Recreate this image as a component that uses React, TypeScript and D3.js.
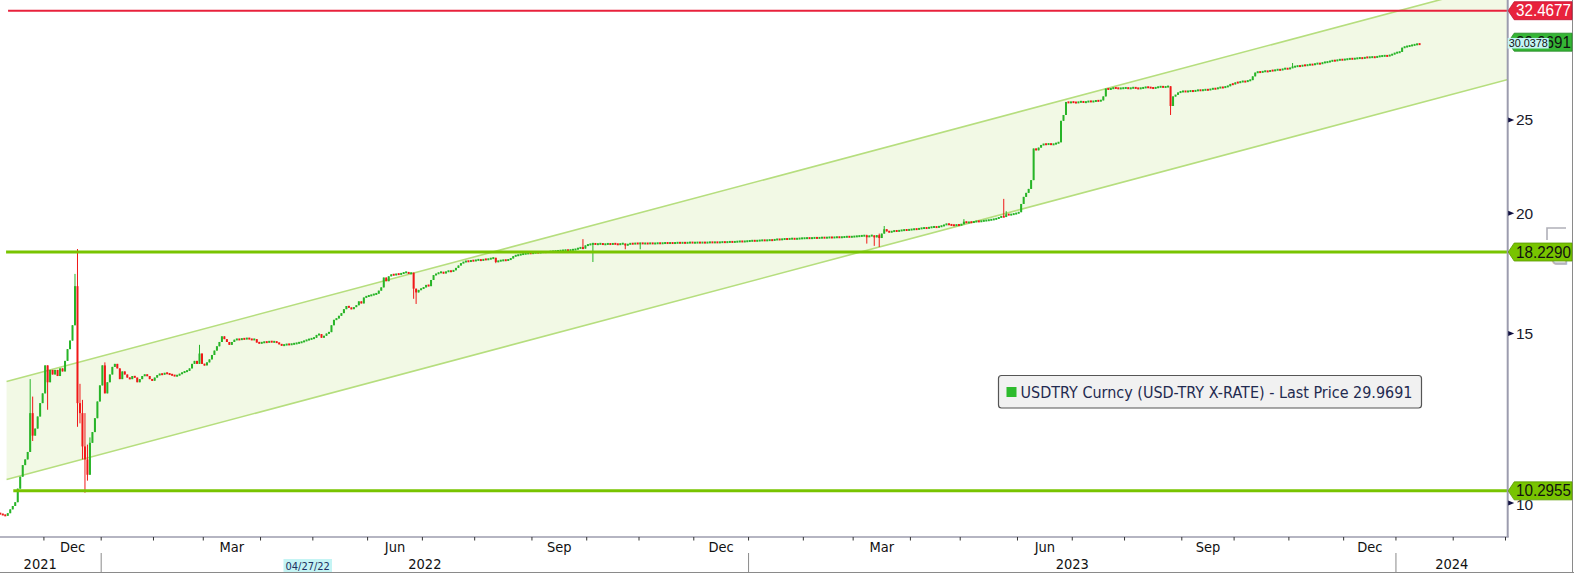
import React from "react";
import * as d3 from "d3";

// ---------------- DATA ----------------
// Daily closes (weekdays) of USDTRY, starting 2021-11-05
const startDate = "2021-11-05";
const firstOpen = 9.76;
const nov21 = [9.74, 9.72, 9.70, 9.76, 9.85, 9.93, 10.02, 10.35, 10.65, 10.95, 11.10, 11.30, 12.40, 11.75, 11.95, 12.30, 12.70, 13.00];
const dec21 = [13.90, 13.35, 13.75, 13.60, 13.75, 13.55, 13.80, 13.70, 14.05, 14.45, 14.75, 15.30, 16.80, 12.70, 12.40, 11.45, 11.10, 10.70, 11.55, 11.85, 12.25, 12.75, 13.25];
const jan22 = [13.90, 13.00, 13.35, 13.60, 13.85, 13.95, 13.80, 13.45, 13.70, 13.60, 13.50, 13.45, 13.55, 13.50, 13.35, 13.45, 13.55, 13.60, 13.55, 13.45, 13.40];
const feb22 = [13.50, 13.58, 13.62, 13.60, 13.65, 13.63, 13.60, 13.58, 13.55, 13.57, 13.62, 13.66, 13.70, 13.72, 13.80, 13.95, 14.05, 13.95, 14.30, 13.95];
const mar22 = [13.90, 14.00, 14.10, 14.25, 14.40, 14.55, 14.70, 14.90, 14.80, 14.70, 14.60, 14.70, 14.78, 14.80, 14.78, 14.82, 14.80, 14.84, 14.80, 14.78, 14.80, 14.68, 14.66];
const apr22 = [14.68, 14.70, 14.69, 14.72, 14.70, 14.71, 14.68, 14.62, 14.58, 14.60, 14.62, 14.61, 14.63, 14.64, 14.66, 14.68, 14.70, 14.74, 14.77, 14.80, 14.82];
const may22 = [14.85, 14.95, 14.98, 14.85, 14.92, 15.00, 15.05, 15.30, 15.50, 15.55, 15.65, 15.75, 15.90, 16.02, 15.96, 15.90, 15.98, 16.05, 16.20, 16.12, 16.35, 16.40];
const jun22 = [16.42, 16.45, 16.48, 16.50, 16.62, 16.75, 17.15, 17.00, 17.20, 17.28, 17.25, 17.30, 17.28, 17.32, 17.35, 17.38, 17.30, 17.35, 16.70, 16.55, 16.65, 16.70];
const jul22 = [16.75, 16.85, 16.80, 17.05, 17.25, 17.30, 17.35, 17.38, 17.32, 17.40, 17.42, 17.40, 17.45, 17.55, 17.65, 17.75, 17.80, 17.84, 17.82, 17.86, 17.85];
const aug22 = [17.88, 17.90, 17.86, 17.92, 17.90, 17.93, 17.95, 17.98, 17.80, 17.85, 17.86, 17.88, 17.87, 17.90, 17.95, 18.05, 18.08, 18.10, 18.13, 18.15, 18.16, 18.18, 18.17];
const sep22 = [18.19, 18.21, 18.20, 18.22, 18.23, 18.22, 18.24, 18.25, 18.26, 18.27, 18.28, 18.29, 18.30, 18.31, 18.30, 18.32, 18.33, 18.35, 18.40, 18.42, 18.38, 18.52];
const oct22 = [18.55, 18.58, 18.60, 18.57, 18.58, 18.60, 18.56, 18.58, 18.59, 18.57, 18.60, 18.58, 18.56, 18.59, 18.60, 18.52, 18.58, 18.60, 18.59, 18.61, 18.60];
const nov22 = [18.62, 18.60, 18.61, 18.60, 18.62, 18.60, 18.61, 18.62, 18.61, 18.62, 18.63, 18.62, 18.63, 18.62, 18.63, 18.64, 18.63, 18.64, 18.63, 18.64, 18.65, 18.64];
const dec22 = [18.64, 18.65, 18.64, 18.65, 18.64, 18.65, 18.66, 18.65, 18.66, 18.65, 18.66, 18.67, 18.66, 18.67, 18.68, 18.67, 18.68, 18.69, 18.70, 18.69, 18.70, 18.71];
const jan23 = [18.72, 18.73, 18.72, 18.73, 18.74, 18.75, 18.74, 18.75, 18.76, 18.75, 18.78, 18.79, 18.78, 18.80, 18.81, 18.80, 18.82, 18.82, 18.81, 18.82, 18.83, 18.84];
const feb23 = [18.84, 18.85, 18.84, 18.85, 18.86, 18.85, 18.86, 18.87, 18.86, 18.87, 18.88, 18.87, 18.88, 18.89, 18.88, 18.89, 18.90, 18.91, 18.90, 18.91];
const mar23 = [18.92, 18.93, 18.94, 18.95, 18.96, 18.90, 18.95, 18.97, 18.88, 18.98, 18.85, 19.05, 19.25, 19.15, 19.12, 19.15, 19.18, 19.16, 19.19, 19.20, 19.22, 19.21, 19.23];
const apr23 = [19.24, 19.26, 19.25, 19.28, 19.30, 19.31, 19.30, 19.33, 19.35, 19.36, 19.34, 19.38, 19.40, 19.45, 19.50, 19.46, 19.44, 19.43, 19.45, 19.44];
const may23 = [19.48, 19.60, 19.55, 19.58, 19.57, 19.60, 19.62, 19.61, 19.63, 19.65, 19.66, 19.68, 19.70, 19.72, 19.75, 19.80, 19.85, 19.82, 19.95, 19.92, 19.95, 19.97, 20.00];
const jun23 = [20.05, 20.45, 20.80, 21.00, 21.20, 21.65, 23.35, 23.25, 23.40, 23.55, 23.60, 23.58, 23.62, 23.57, 23.60, 23.65, 23.70, 24.95, 25.30, 26.10, 26.05, 26.10];
const jul23 = [26.08, 26.05, 26.10, 26.12, 26.08, 26.10, 26.15, 26.12, 26.14, 26.18, 26.16, 26.20, 26.45, 26.95, 26.90, 26.95, 27.00, 26.98, 26.95, 26.97, 26.98];
const aug23 = [27.00, 26.95, 26.98, 27.02, 26.97, 26.95, 26.98, 27.00, 27.05, 27.02, 27.00, 26.97, 27.02, 27.05, 27.08, 27.04, 27.06, 27.10, 25.85, 26.45, 26.55, 26.70, 26.75];
const sep23 = [26.78, 26.75, 26.78, 26.80, 26.78, 26.82, 26.85, 26.83, 26.86, 26.88, 26.86, 26.92, 26.95, 26.93, 27.00, 27.03, 27.01, 27.08, 27.10, 27.25, 27.22];
const oct23 = [27.35, 27.33, 27.40, 27.42, 27.39, 27.48, 27.50, 27.75, 28.00, 28.05, 28.02, 28.08, 28.10, 28.06, 28.15, 28.12, 28.18, 28.20, 28.17, 28.25, 28.28, 28.24];
const nov23 = [28.32, 28.38, 28.42, 28.45, 28.43, 28.50, 28.48, 28.52, 28.55, 28.53, 28.60, 28.62, 28.59, 28.68, 28.70, 28.72, 28.78, 28.82, 28.80, 28.86, 28.88, 28.87];
const dec23 = [28.90, 28.92, 28.95, 28.93, 28.96, 28.98, 29.00, 28.97, 29.04, 29.03, 29.05, 29.06, 29.04, 29.10, 29.12, 29.14, 29.15, 29.13, 29.20, 29.25, 29.35];
const jan24 = [29.38, 29.42, 29.72, 29.78, 29.82, 29.86, 29.90, 29.94, 29.98, 29.9691];

// intraday extremes beyond the body
const highs: [string, number][] = [
  ["2021-11-23", 13.45], ["2021-11-24", 12.9], ["2021-12-17", 17.3], ["2021-12-20", 18.36],
  ["2021-12-21", 13.3], ["2021-12-22", 12.8], ["2021-12-23", 12.4], ["2021-12-24", 11.5],
  ["2021-12-27", 11.7], ["2022-01-04", 14.0], ["2022-02-25", 14.6], ["2022-09-29", 18.8],
  ["2023-03-08", 19.0], ["2023-03-15", 19.05], ["2023-03-17", 19.4], ["2023-05-02", 19.72],
  ["2023-05-24", 20.7], ["2023-05-25", 20.1], ["2023-11-02", 28.65],
];
const lows: [string, number][] = [
  ["2021-11-24", 11.6], ["2021-12-02", 12.5], ["2021-12-20", 12.0], ["2021-12-21", 12.1],
  ["2021-12-22", 11.1], ["2021-12-23", 10.25], ["2021-12-24", 10.55], ["2022-06-27", 16.3],
  ["2022-06-28", 16.1], ["2022-08-11", 17.75], ["2022-10-05", 17.8], ["2022-10-24", 18.35],
  ["2022-11-01", 18.35], ["2023-03-08", 18.6], ["2023-03-13", 18.5], ["2023-03-15", 18.45],
  ["2023-08-25", 25.3],
];

// trend channel (start/end trading-day index, upper & lower values)
const channelIdx = [3, 606];
const channelUpper = [13.377, 34.8];
const channelLower = [10.58, 27.54];

// horizontal levels
const levelValues = [32.4677, 18.229, 10.2955];
const levelStartIdx = [3.6, 2.8, 5.7];
const levelLabels = ["32.4677", "18.2290", "10.2955"];

const yTicks = [10, 15, 20, 25];
const lastPrice = 29.9691;
const lastPriceLabel = "29.9691";
const crossValue = 30.0378;
const crossLabel = "30.0378";
const monthNames = ["Jan", "Feb", "Mar", "Apr", "May", "Jun", "Jul", "Aug", "Sep", "Oct", "Nov", "Dec"];
const labeledMonths = [11, 2, 5, 8];
const legendText = "USDTRY Curncy (USD-TRY X-RATE) - Last Price 29.9691";
const cursorDate = "04/27/22";

// ---------------- HELPERS ----------------
function buildWeekdays(start: string, count: number): Date[] {
  const [y, m, d] = start.split("-").map(Number);
  const out: Date[] = [];
  let t = Date.UTC(y, m - 1, d);
  while (out.length < count) {
    const dt = new Date(t);
    const wd = dt.getUTCDay();
    if (wd !== 0 && wd !== 6) out.push(dt);
    t += 86400000;
  }
  return out;
}
const iso = (d: Date) => d.toISOString().slice(0, 10);

const GREEN = "#27b427";
const RED = "#f01818";
const AXIS = "#9c9cae";
const FONT = "'Liberation Sans', Arial, sans-serif";
const NARROW = "'Liberation Sans Narrow', 'DejaVu Sans Condensed', 'Liberation Sans', sans-serif";

export default function App() {
  const W = 1574, H = 573;
  const plotR = 1507.7, plotB = 537;

  const closes = [nov21, dec21, jan22, feb22, mar22, apr22, may22, jun22, jul22, aug22, sep22, oct22, nov22, dec22,
    jan23, feb23, mar23, apr23, may23, jun23, jul23, aug23, sep23, oct23, nov23, dec23, jan24].flat();

  const calendar = buildWeekdays(startDate, 610);
  const xs = d3.scaleLinear().domain([0, 605]).range([-0.9, 1505.5]);
  const ys = d3.scaleLog().domain([9.22, 33.31]).range([plotB, 0]);

  const highMap = new Map(highs);
  const lowMap = new Map(lows);

  const candles = closes.map((c, i) => {
    const o = i === 0 ? firstOpen : closes[i - 1];
    const key = iso(calendar[i]);
    const h = Math.max(o, c, highMap.get(key) ?? 0);
    const l = Math.min(o, c, lowMap.get(key) ?? Infinity);
    return { i, o, c, h, l, up: c >= o };
  });

  const monthStarts: { idx: number; m: number; y: number }[] = [];
  calendar.forEach((d, i) => {
    const prev = calendar[i - 1];
    if (i > 0 && prev.getUTCMonth() !== d.getUTCMonth()) monthStarts.push({ idx: i, m: d.getUTCMonth(), y: d.getUTCFullYear() });
  });
  const yearStarts = monthStarts.filter((s) => s.m === 0);

  const chPts = [
    [xs(channelIdx[0]), ys(channelUpper[0])],
    [xs(channelIdx[1]), ys(channelUpper[1])],
    [xs(channelIdx[1]), ys(channelLower[1])],
    [xs(channelIdx[0]), ys(channelLower[0])],
  ];
  const line = d3.line();

  const levelColors = ["#e8223c", "#78c400", "#78c400"];
  const levelWidths = [2, 3, 3];
  const tagFill = ["#e8223c", "#78c400", "#78c400"];
  const tagText = ["#ffffff", "#111111", "#111111"];

  const tagPath = (yc: number) =>
    `M${plotR + 0.5},${yc} L${plotR + 6.5},${yc - 9} L1572,${yc - 9} L1572,${yc + 9} L${plotR + 6.5},${yc + 9} Z`;

  const yearLabels: { x: number; t: string }[] = [];
  const firstYear = calendar[0].getUTCFullYear();
  yearLabels.push({ x: (xs(-8) + xs(yearStarts[0].idx)) / 2, t: String(firstYear) });
  yearStarts.forEach((s, k) => {
    const endX = k + 1 < yearStarts.length ? xs(yearStarts[k + 1].idx) : plotR;
    yearLabels.push({ x: (xs(s.idx) + endX) / 2, t: String(s.y) });
  });

  const monthLabels = monthStarts
    .filter((s, k) => labeledMonths.includes(s.m) && k + 1 < monthStarts.length)
    .map((s) => {
      const k = monthStarts.indexOf(s);
      return { x: (xs(s.idx) + xs(monthStarts[k + 1].idx)) / 2, t: monthNames[s.m] };
    });

  return (
    <svg width={W} height={H} style={{ position: "absolute", left: 0, top: 0, background: "#fff" }}>
      <defs>
        <clipPath id="plotClip">
          <rect x={0} y={0} width={plotR} height={plotB} />
        </clipPath>
      </defs>
      <rect x={0} y={0} width={W} height={H} fill="#ffffff" />
      <g clipPath="url(#plotClip)">
        <path d={line(chPts as [number, number][]) + "Z"} fill="#f2f9e5" />
        <line x1={chPts[0][0]} y1={chPts[0][1]} x2={chPts[1][0]} y2={chPts[1][1]} stroke="#b6de7e" strokeWidth={1.6} />
        <line x1={chPts[3][0]} y1={chPts[3][1]} x2={chPts[2][0]} y2={chPts[2][1]} stroke="#b6de7e" strokeWidth={1.6} />
        {candles.map((k) => {
          const cx = xs(k.i) + 1.2;
          const yTop = ys(Math.max(k.o, k.c));
          const yBot = ys(Math.min(k.o, k.c));
          const bh = Math.max(2, yBot - yTop);
          const col = k.up ? GREEN : RED;
          return (
            <g key={k.i}>
              <line x1={cx} x2={cx} y1={ys(k.h)} y2={ys(k.l)} stroke={col} strokeWidth={1} />
              <rect x={cx - 1} y={(yTop + yBot) / 2 - bh / 2} width={2} height={bh} fill={col} />
            </g>
          );
        })}
        {levelValues.map((v, j) => (
          <line key={j} x1={xs(levelStartIdx[j])} x2={plotR} y1={ys(v)} y2={ys(v)} stroke={levelColors[j]} strokeWidth={levelWidths[j]} />
        ))}
      </g>

      {/* axes */}
      <line x1={plotR} x2={plotR} y1={0} y2={plotB} stroke={AXIS} strokeWidth={2} />
      <line x1={0} x2={plotR + 1} y1={plotB} y2={plotB} stroke={AXIS} strokeWidth={1.5} />
      <line x1={1572.5} x2={1572.5} y1={0} y2={H} stroke="#8a8a8a" strokeWidth={1} />
      <line x1={0} x2={W} y1={572.5} y2={572.5} stroke="#8a8a8a" strokeWidth={1} />

      {/* y ticks */}
      {yTicks.map((t) => (
        <g key={t}>
          <path d={`M${plotR + 0.5},${ys(t) - 2.5} L${plotR + 6.5},${ys(t)} L${plotR + 0.5},${ys(t) + 2.5} Z`} fill="#101040" />
          <text x={1516} y={ys(t) + (t === 10 ? 7 : 5.5)} fontSize={15.5} fontFamily={FONT} fill="#1a1a2a">{t}</text>
        </g>
      ))}

      {/* watermark glyph */}
      <g fill="none" stroke="#b0b0b8" strokeWidth={1.6}>
        <path d="M1547,240 L1547,228 L1566,228" />
        <text x={1552} y={243} fontSize={22} fontFamily={FONT} fill="#b4b4bc" stroke="none" transform="rotate(90 1552 243)">dJ</text>
      </g>

      {/* level tags */}
      {levelValues.map((v, j) => (
        <g key={j}>
          <path d={tagPath(ys(v))} fill={tagFill[j]} stroke={j === 0 ? "#c01030" : "#5a9a00"} strokeWidth={0.8} />
          <text x={1516} y={ys(v) + 5.5} fontSize={16} fontFamily={FONT} fill={tagText[j]} textLength={55} lengthAdjust="spacingAndGlyphs">{levelLabels[j]}</text>
        </g>
      ))}
      {/* last price tag */}
      <g>
        <path d={tagPath(ys(lastPrice) - 2)} fill="#35b535" stroke="#228822" strokeWidth={0.8} />
        <text x={1516} y={ys(lastPrice) + 3.5} fontSize={16} fontFamily={FONT} fill="#111" textLength={55} lengthAdjust="spacingAndGlyphs">{lastPriceLabel}</text>
        <rect x={plotR} y={ys(crossValue) - 5.3} width={41} height={10.6} fill="#c4f4f4" />
        <text x={plotR + 1} y={ys(crossValue) + 3.8} fontSize={11} fontFamily={FONT} fill="#111" textLength={39} lengthAdjust="spacingAndGlyphs">{crossLabel}</text>
      </g>

      {/* x axis */}
      {monthStarts.map((s) => (
        <line key={s.idx} x1={xs(s.idx)} x2={xs(s.idx)} y1={plotB} y2={plotB + 3.5} stroke="#333" strokeWidth={1} />
      ))}
      {monthLabels.map((m, k) => (
        <text key={k} x={m.x} y={551.5} fontSize={14.5} fontFamily={NARROW} fill="#111" textAnchor="middle">{m.t}</text>
      ))}
      {yearStarts.map((s) => (
        <line key={s.idx} x1={xs(s.idx)} x2={xs(s.idx)} y1={553} y2={572} stroke="#8a8a8a" strokeWidth={1} />
      ))}
      {yearLabels.map((y, k) => (
        <text key={k} x={y.x} y={569} fontSize={14.5} fontFamily={NARROW} fill="#111" textAnchor="middle">{y.t}</text>
      ))}
      <rect x={283.5} y={559} width={48.5} height={13} fill="#c4f4f4" />
      <text x={307.7} y={569.5} fontSize={11} fontFamily={NARROW} fill="#203060" textAnchor="middle">{cursorDate}</text>

      {/* legend */}
      <rect x={998.5} y={375.5} width={423} height={32.5} rx={3} fill="#f1f1f1" stroke="#555" strokeWidth={1.2} />
      <rect x={1006.5} y={387} width={10} height={10} fill="#2dbb2d" />
      <text x={1020.5} y={397.5} fontSize={15} fontFamily="'DejaVu Sans', sans-serif" fill="#1f2a50" textLength={392} lengthAdjust="spacingAndGlyphs">{legendText}</text>
    </svg>
  );
}
